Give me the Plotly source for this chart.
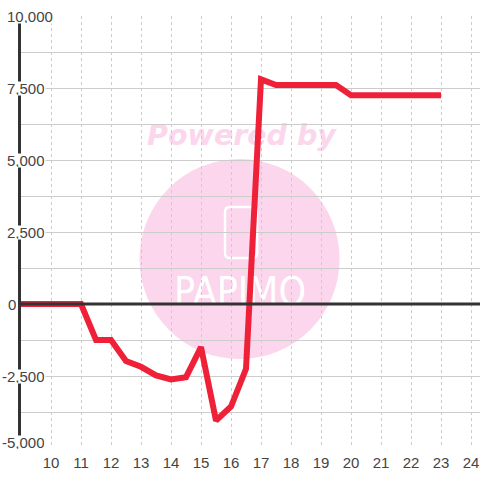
import plotly.graph_objects as go

x_values = [8.87, 9.5, 10, 10.5, 11, 11.5, 12, 12.5, 13, 13.5, 14, 14.5, 15, 15.5, 16, 16.5, 17,
            17.5, 18, 18.5, 19, 19.5, 20, 20.5, 21, 21.5, 22, 22.5, 23]
y_values = [0, 0, 0, 0, 0, -1250, -1250, -1980, -2180, -2480, -2620, -2540, -1500, -4050, -3560, -2250, 7800,
            7600, 7600, 7600, 7600, 7600, 7250, 7250, 7250, 7250, 7250, 7250, 7250]
x_ticks = list(range(10, 25))
y_ticks = [10000, 7500, 5000, 2500, 0, -2500, -5000]
y_tick_labels = ["10,000", "7,500", "5,000", "2,500", "0", "-2,500", "-5,000"]
y_grid = list(range(-5000, 10001, 1250))

PINK = "#fbd6ec"
W, H = 480, 480
L, T, B = 21, 16, 448
XMIN, XMAX = 9, 24.3

fig = go.Figure(go.Scatter(x=x_values, y=y_values, mode="lines",
                           line=dict(color="#ef2139", width=6, simplify=False),
                           hoverinfo="skip", cliponaxis=False))

# rounded outline of the logo box (data units; corner radius about 5 px)
bx0, bx1, by0, by1, rx, ry = 15.8, 16.87, 1600, 3370, 0.17, 174
box_path = (f"M {bx0+rx} {by1} L {bx1-rx} {by1} Q {bx1} {by1} {bx1} {by1-ry} L {bx1} {by0+ry} "
            f"Q {bx1} {by0} {bx1-rx} {by0} L {bx0+rx} {by0} Q {bx0} {by0} {bx0} {by0+ry} "
            f"L {bx0} {by1-ry} Q {bx0} {by1} {bx0+rx} {by1} Z")

shapes = [
    dict(type="circle", layer="below", xref="x", yref="y", x0=12.95, x1=19.62, y0=-1910, y1=5035,
         fillcolor=PINK, line_width=0),
    dict(type="rect", layer="below", xref="x", yref="y", x0=13.35, x1=19.35, y0=5940, y1=5940,
         line_width=0, fillcolor="rgba(0,0,0,0)",
         label=dict(text="<b><i>Powered by</i></b>", textposition="middle center",
                    font=dict(family="DejaVu Sans", size=28.5, color=PINK))),
    dict(type="path", layer="below", xref="x", yref="y", path=box_path,
         line=dict(color="white", width=2.5), fillcolor=PINK),
    dict(type="rect", layer="below", xref="x", yref="y", x0=12.9, x1=19.7, y0=555, y1=555,
         line_width=0, fillcolor="rgba(0,0,0,0)",
         label=dict(text="PAPIMO", textposition="middle center",
                    font=dict(family="DejaVu Sans Condensed, DejaVu Sans", size=39, color="white"))),
]
fig.update_layout(shapes=shapes)

fig.add_hline(y=0, line=dict(color="#333333", width=3), layer="above")

annotations = []
for v, t in zip(y_ticks, y_tick_labels):
    annotations.append(dict(xref="paper", yref="y", x=-L / (W - L), y=v, xanchor="left", yanchor="middle",
                            text=t, showarrow=False, bgcolor="white", borderpad=0, height=13,
                            font=dict(family="Liberation Sans", size=15, color="#444444"),
                            xshift=(1 if t.startswith("-") else (7 if t == "0" else 6)),
                            yshift=(6 if t == "-5,000" else 0)))
fig.update_layout(annotations=annotations)

fig.update_xaxes(range=[XMIN, XMAX], tickmode="array", tickvals=x_ticks,
                 ticks="", showline=False, zeroline=False,
                 showgrid=True, gridcolor="#cccccc", griddash="dot", gridwidth=1,
                 tickfont=dict(family="Liberation Sans", size=15, color="#444444"), ticklabelstandoff=4)
fig.update_yaxes(range=[-5000, 10000], tickmode="array", tickvals=y_grid, showticklabels=False,
                 ticks="", zeroline=False, showline=True, linecolor="#333333", linewidth=3,
                 showgrid=True, gridcolor="#cccccc", gridwidth=1)
fig.update_layout(width=W, height=H, showlegend=False, plot_bgcolor="white", paper_bgcolor="white",
                  margin=dict(l=L, r=0, t=T, b=H - B, pad=0))
fig.write_html("out.html", config={"displayModeBar": False},
               post_script="document.body.style.margin='0';document.documentElement.style.overflow='hidden';")
